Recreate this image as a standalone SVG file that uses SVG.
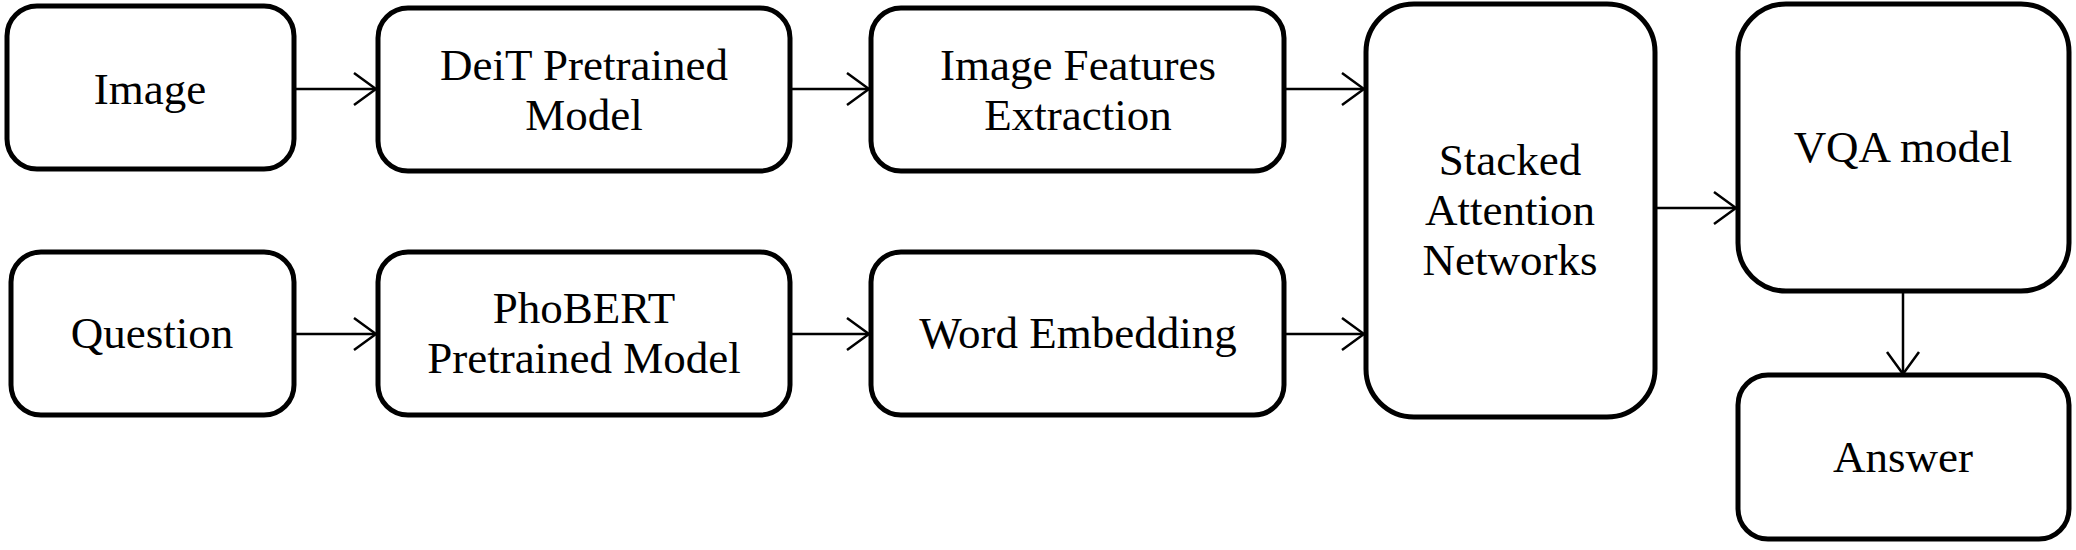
<svg xmlns="http://www.w3.org/2000/svg" width="2076" height="550" viewBox="0 0 2076 550">
<defs>
<style>
.box{fill:#fff;stroke:#000;stroke-width:5}
.t{font-family:"Liberation Serif","Times New Roman",serif;font-size:45px;fill:#000;text-anchor:middle}
.c{fill:none;stroke:#000;stroke-width:2.5}
</style>
<marker id="ah" viewBox="0 0 24 36" refX="23" refY="18" markerWidth="24" markerHeight="36" markerUnits="userSpaceOnUse" orient="auto">
<path d="M1,2 L23,18 L1,34" fill="none" stroke="#000" stroke-width="2.5"/>
</marker>
</defs>
<rect width="2076" height="550" fill="#fff"/>
<g id="connectors">
<line class="c" x1="294" y1="89" x2="376" y2="89" marker-end="url(#ah)"/>
<line class="c" x1="790" y1="89" x2="869" y2="89" marker-end="url(#ah)"/>
<line class="c" x1="1284" y1="89" x2="1364" y2="89" marker-end="url(#ah)"/>
<line class="c" x1="294" y1="334" x2="376" y2="334" marker-end="url(#ah)"/>
<line class="c" x1="790" y1="334" x2="869" y2="334" marker-end="url(#ah)"/>
<line class="c" x1="1284" y1="334" x2="1364" y2="334" marker-end="url(#ah)"/>
<line class="c" x1="1655" y1="208" x2="1736" y2="208" marker-end="url(#ah)"/>
<line class="c" x1="1903" y1="291" x2="1903" y2="374" marker-end="url(#ah)"/>
</g>
<g id="image">
<rect class="box" x="7" y="6" width="287" height="163" rx="30"/>
<text class="t" x="150" y="104">Image</text>
</g>
<g id="deit">
<rect class="box" x="378" y="8" width="412" height="163" rx="30"/>
<text class="t" x="584" y="80">DeiT Pretrained</text>
<text class="t" x="584" y="130">Model</text>
</g>
<g id="features">
<rect class="box" x="871" y="8" width="413" height="163" rx="30"/>
<text class="t" x="1078" y="80">Image Features</text>
<text class="t" x="1078" y="130">Extraction</text>
</g>
<g id="question">
<rect class="box" x="11" y="252" width="283" height="163" rx="30"/>
<text class="t" x="152" y="348">Question</text>
</g>
<g id="phobert">
<rect class="box" x="378" y="252" width="412" height="163" rx="30"/>
<text class="t" x="584" y="323">PhoBERT</text>
<text class="t" x="584" y="373">Pretrained Model</text>
</g>
<g id="embedding">
<rect class="box" x="871" y="252" width="413" height="163" rx="30"/>
<text class="t" x="1078" y="348">Word Embedding</text>
</g>
<g id="stacked">
<rect class="box" x="1366" y="4" width="289" height="413" rx="48"/>
<text class="t" x="1510" y="175">Stacked</text>
<text class="t" x="1510" y="225">Attention</text>
<text class="t" x="1510" y="275">Networks</text>
</g>
<g id="vqa">
<rect class="box" x="1738" y="4" width="331" height="287" rx="48"/>
<text class="t" x="1903" y="162">VQA model</text>
</g>
<g id="answer">
<rect class="box" x="1738" y="375" width="331" height="164" rx="30"/>
<text class="t" x="1903" y="472">Answer</text>
</g>
</svg>
